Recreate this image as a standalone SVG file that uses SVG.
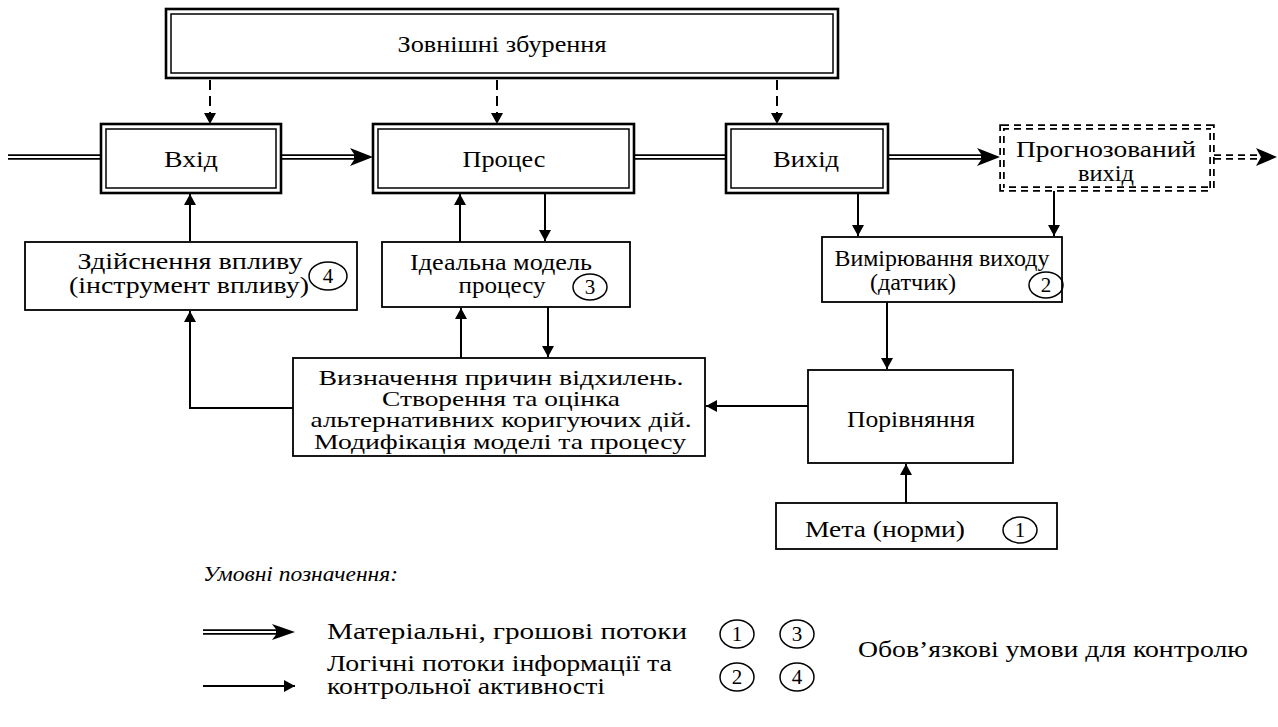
<svg xmlns="http://www.w3.org/2000/svg" width="1278" height="727" viewBox="0 0 1278 727" font-family="'Liberation Serif', 'Times New Roman', serif">
<defs>
<marker id="ah" markerUnits="userSpaceOnUse" markerWidth="12" markerHeight="12" refX="11" refY="6" orient="auto">
<path d="M0,0 L11,6 L0,12 z" fill="#000"/>
</marker>
</defs>
<style>
text{font-family:'Liberation Serif','Times New Roman',serif;font-size:23px;fill:#000}
.c{text-anchor:middle}
.n{font-size:21px}
.m{font-size:21.5px}
.box{fill:#fff;stroke:#000;stroke-width:1.8}
.o{fill:none;stroke:#000;stroke-width:2.6}
.i{fill:none;stroke:#000;stroke-width:1.5}
.ln{fill:none;stroke:#000;stroke-width:2}
.dash{fill:none;stroke:#000;stroke-width:2;stroke-dasharray:10 6}
.dbk{fill:none;stroke:#000;stroke-width:5.5}
.dwh{fill:none;stroke:#fff;stroke-width:2}
.ell{fill:none;stroke:#000;stroke-width:1.5}
.it{font-style:italic;font-size:21px}
</style>
<rect width="1278" height="727" fill="#fff"/>

<g id="connectors">
<line class="dash" x1="210" y1="80" x2="210" y2="124" marker-end="url(#ah)"/>
<line class="dash" x1="497" y1="80" x2="497" y2="124" marker-end="url(#ah)"/>
<line class="dash" x1="777" y1="80" x2="777" y2="124" marker-end="url(#ah)"/>
<line class="dbk" x1="8" y1="157" x2="101" y2="157"/><line class="dwh" x1="8" y1="157" x2="101" y2="157"/>
<line class="dbk" x1="281" y1="157" x2="358" y2="157"/><line class="dwh" x1="281" y1="157" x2="354" y2="157"/>
<path d="M373,157 L350,148 L356,157 L350,166 z" fill="#000"/>
<line class="dbk" x1="634" y1="157" x2="726" y2="157"/><line class="dwh" x1="634" y1="157" x2="726" y2="157"/>
<line class="dbk" x1="888" y1="157" x2="985" y2="157"/><line class="dwh" x1="888" y1="157" x2="981" y2="157"/>
<path d="M1000,157 L977,148 L983,157 L977,166 z" fill="#000"/>
<line x1="1214" y1="157" x2="1260" y2="157" stroke="#000" stroke-width="5.5" stroke-dasharray="7 5"/><line class="dwh" x1="1214" y1="157" x2="1260" y2="157"/>
<path d="M1277,157 L1256,148 L1261,157 L1256,166 z" fill="#000"/>
<line class="ln" x1="190" y1="241" x2="190" y2="194" marker-end="url(#ah)"/>
<polyline class="ln" points="293,408 190,408 190,311" marker-end="url(#ah)"/>
<line class="ln" x1="460" y1="242" x2="460" y2="194" marker-end="url(#ah)"/>
<line class="ln" x1="545" y1="193" x2="545" y2="241" marker-end="url(#ah)"/>
<line class="ln" x1="461" y1="358" x2="461" y2="308" marker-end="url(#ah)"/>
<line class="ln" x1="548" y1="307" x2="548" y2="357" marker-end="url(#ah)"/>
<line class="ln" x1="858" y1="193" x2="858" y2="236" marker-end="url(#ah)"/>
<line class="ln" x1="1054" y1="191" x2="1054" y2="236" marker-end="url(#ah)"/>
<line class="ln" x1="887" y1="302" x2="887" y2="369" marker-end="url(#ah)"/>
<line class="ln" x1="808" y1="406" x2="706" y2="406" marker-end="url(#ah)"/>
<line class="ln" x1="906" y1="503" x2="906" y2="464" marker-end="url(#ah)"/>
</g>

<g id="n-dist">
<rect x="166" y="9" width="672" height="69" fill="#fff"/>
<rect class="o" x="166" y="9" width="672" height="69"/>
<rect class="i" x="171" y="14" width="662" height="59"/>
<text class="c" x="502" y="52" textLength="209" lengthAdjust="spacingAndGlyphs">Зовнішні збурення</text>
</g>

<g id="n-input">
<rect class="o" x="101" y="124" width="180" height="69"/>
<rect class="i" x="106" y="129" width="170" height="59"/>
<text class="c" x="191" y="167" textLength="54" lengthAdjust="spacingAndGlyphs">Вхід</text>
</g>

<g id="n-process">
<rect class="o" x="373" y="124" width="261" height="69"/>
<rect class="i" x="378" y="129" width="251" height="59"/>
<text class="c" x="504" y="167" textLength="83" lengthAdjust="spacingAndGlyphs">Процес</text>
</g>

<g id="n-output">
<rect class="o" x="726" y="124" width="162" height="69"/>
<rect class="i" x="731" y="129" width="152" height="59"/>
<text class="c" x="806" y="167" textLength="66" lengthAdjust="spacingAndGlyphs">Вихід</text>
</g>

<g id="n-forecast">
<rect x="1002" y="127" width="210" height="62" fill="none" stroke="#000" stroke-width="5.5" stroke-dasharray="7 5"/>
<rect x="1002" y="127" width="210" height="62" fill="none" stroke="#fff" stroke-width="2"/>
<text class="c" x="1106" y="157" textLength="180" lengthAdjust="spacingAndGlyphs">Прогнозований</text>
<text class="c" x="1106" y="181" textLength="56" lengthAdjust="spacingAndGlyphs">вихід</text>
</g>

<g id="n-impact">
<rect class="box" x="25" y="242" width="332" height="68"/>
<text class="c" x="190" y="269" textLength="225" lengthAdjust="spacingAndGlyphs">Здійснення впливу</text>
<text class="c" x="189" y="293" textLength="240" lengthAdjust="spacingAndGlyphs">(інструмент впливу)</text>
<ellipse class="ell" cx="328" cy="276" rx="19" ry="14"/>
<text class="c n" x="328" y="283">4</text>
</g>

<g id="n-model">
<rect class="box" x="382" y="242" width="248" height="65"/>
<text class="c" x="501" y="270" textLength="182" lengthAdjust="spacingAndGlyphs">Ідеальна модель</text>
<text class="c" x="502" y="293" textLength="87" lengthAdjust="spacingAndGlyphs">процесу</text>
<ellipse class="ell" cx="590" cy="287" rx="17" ry="13"/>
<text class="c n" x="590" y="294">3</text>
</g>

<g id="n-measure">
<rect class="box" x="822" y="237" width="240" height="65"/>
<text class="c" x="942" y="266" textLength="215" lengthAdjust="spacingAndGlyphs">Вимірювання виходу</text>
<text class="c" x="913" y="290" textLength="86" lengthAdjust="spacingAndGlyphs">(датчик)</text>
<ellipse class="ell" cx="1046" cy="285" rx="17" ry="13"/>
<text class="c n" x="1046" y="292">2</text>
</g>

<g id="n-analysis">
<rect class="box" x="293" y="358" width="412" height="98"/>
<text class="c m" x="501" y="385" textLength="365" lengthAdjust="spacingAndGlyphs">Визначення причин відхилень.</text>
<text class="c m" x="501" y="406" textLength="238" lengthAdjust="spacingAndGlyphs">Створення та оцінка</text>
<text class="c m" x="501" y="427" textLength="381" lengthAdjust="spacingAndGlyphs">альтернативних коригуючих дій.</text>
<text class="c m" x="500" y="449" textLength="372" lengthAdjust="spacingAndGlyphs">Модифікація моделі та процесу</text>
</g>

<g id="n-compare">
<rect class="box" x="808" y="370" width="205" height="93"/>
<text class="c" x="911" y="427" textLength="128" lengthAdjust="spacingAndGlyphs">Порівняння</text>
</g>

<g id="n-goal">
<rect class="box" x="776" y="503" width="281" height="46"/>
<text class="c" x="885" y="537" textLength="160" lengthAdjust="spacingAndGlyphs">Мета (норми)</text>
<ellipse class="ell" cx="1020" cy="530" rx="17" ry="13"/>
<text class="c n" x="1020" y="537">1</text>
</g>

<g id="legend">
<text class="it" x="203" y="581" textLength="195" lengthAdjust="spacingAndGlyphs">Умовні позначення:</text>
<line class="dbk" x1="203" y1="632" x2="280" y2="632"/><line class="dwh" x1="203" y1="632" x2="276" y2="632"/>
<path d="M295,632 L272,624 L278,632 L272,640 z" fill="#000"/>
<text x="327" y="639" textLength="360" lengthAdjust="spacingAndGlyphs">Матеріальні, грошові потоки</text>
<line class="ln" x1="203" y1="686" x2="295" y2="686" marker-end="url(#ah)"/>
<text x="327" y="671" textLength="345" lengthAdjust="spacingAndGlyphs">Логічні потоки інформації та</text>
<text x="327" y="694" textLength="278" lengthAdjust="spacingAndGlyphs">контрольної активності</text>
<ellipse class="ell" cx="737" cy="634" rx="17" ry="14"/>
<text class="c n" x="737" y="641">1</text>
<ellipse class="ell" cx="797" cy="634" rx="17" ry="14"/>
<text class="c n" x="797" y="641">3</text>
<ellipse class="ell" cx="737" cy="677" rx="17" ry="14"/>
<text class="c n" x="737" y="684">2</text>
<ellipse class="ell" cx="797" cy="677" rx="17" ry="14"/>
<text class="c n" x="797" y="684">4</text>
<text x="858" y="657" textLength="390" lengthAdjust="spacingAndGlyphs">Обов’язкові умови для контролю</text>
</g>
</svg>
